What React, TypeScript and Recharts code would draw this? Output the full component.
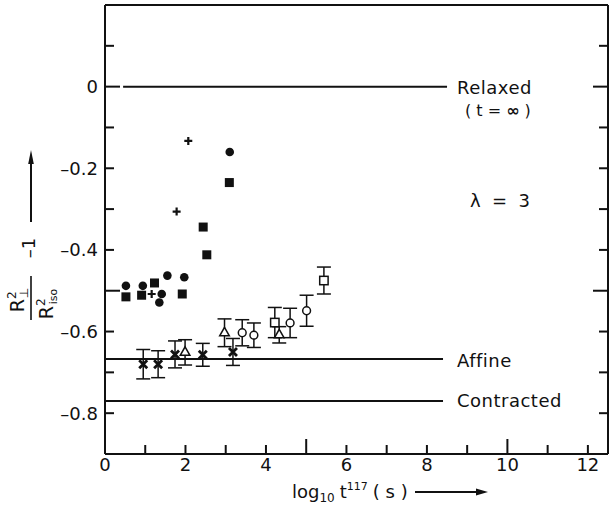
import React from "react";
import {
  ScatterChart,
  Scatter,
  XAxis,
  YAxis,
  ErrorBar,
  ReferenceLine,
} from "recharts";

// values (x = log10 t, y = R_perp^2 / R_iso^2 - 1)
const discX = [0.52, 0.94, 1.35, 1.41, 1.55, 1.97, 3.1];
const discY = [-0.488, -0.488, -0.529, -0.508, -0.463, -0.467, -0.16];

const blockX = [0.52, 0.91, 1.23, 1.92, 2.44, 2.53, 3.09];
const blockY = [-0.515, -0.511, -0.481, -0.508, -0.344, -0.412, -0.235];

const plusX = [1.16, 1.78, 2.07];
const plusY = [-0.508, -0.306, -0.133];

const crossX = [0.95, 1.32, 1.74, 2.43, 3.18];
const crossY = [-0.68, -0.68, -0.656, -0.657, -0.65];
const crossErr = [0.036, 0.033, 0.033, 0.028, 0.033];

const triX = [1.99, 2.97, 4.33];
const triY = [-0.651, -0.603, -0.608];
const triErr = [0.031, 0.034, 0.02];

const ringX = [3.41, 3.7, 4.6, 5.01];
const ringY = [-0.603, -0.609, -0.579, -0.549];
const ringErr = [0.032, 0.03, 0.036, 0.038];

const boxX = [4.22, 5.44];
const boxY = [-0.578, -0.475];
const boxErr = [0.037, 0.033];

// horizontal limits
const limitNames = ["Relaxed", "Affine", "Contracted"];
const limitValues = [0, -0.667, -0.77];
const limitFrom = [0.45, 0, 0];
const limitTo = [8.5, 8.4, 8.4];

const xTicks = [0, 1, 2, 3, 4, 5, 6, 7, 8, 9, 10, 11, 12];
const xTickLabels = [0, 2, 4, 6, 8, 10, 12];
const yTicks = [0.1, 0, -0.1, -0.2, -0.3, -0.4, -0.5, -0.6, -0.7, -0.8];
const yTickLabels = [0, -0.2, -0.4, -0.6, -0.8];

const FONT = "'DejaVu Sans', sans-serif";
const INK = "#111";
const TW = 2; // tick stroke

const pts = (xs: number[], ys: number[], errs?: number[]) =>
  xs.map((x, i) => ({ x, y: ys[i], err: errs ? errs[i] : 0 }));

const near = (a: number, b: number) => Math.abs(a - b) < 1e-6;
const isMajorX = (v: number) => near(v % 5, 0);
const isMajorY = (v: number) => near(v * 2, Math.round(v * 2));
const fmtY = (v: number) => (near(v, 0) ? "0" : "\u2013" + Math.abs(v).toFixed(1));
const tickLen = (major: boolean) => (major ? 15 : 9);

// tickSize and tickMargin are 0, so p.x / p.y sit on the axis line
const BottomTick = (p: any) => {
  const v = p.payload.value;
  return (
    <g>
      <line x1={p.x} x2={p.x} y1={p.y} y2={p.y - tickLen(isMajorX(v))} stroke={INK} strokeWidth={TW} />
      {xTickLabels.some((t) => near(t, v)) && (
        <text x={p.x} y={p.y + 17} textAnchor="middle" fontSize={18} fontFamily={FONT} fill={INK}>
          {v}
        </text>
      )}
    </g>
  );
};

const TopTick = (p: any) => (
  <line x1={p.x} x2={p.x} y1={p.y} y2={p.y + tickLen(isMajorX(p.payload.value))} stroke={INK} strokeWidth={TW} />
);

const LeftTick = (p: any) => {
  const v = p.payload.value;
  return (
    <g>
      <line x1={p.x} x2={p.x + tickLen(isMajorY(v))} y1={p.y} y2={p.y} stroke={INK} strokeWidth={TW} />
      {yTickLabels.some((t) => near(t, v)) && (
        <text x={p.x - 7} y={p.y + 6.5} textAnchor="end" fontSize={18} fontFamily={FONT} fill={INK}>
          {fmtY(v)}
        </text>
      )}
    </g>
  );
};

const RightTick = (p: any) => (
  <line x1={p.x} x2={p.x - tickLen(isMajorY(p.payload.value))} y1={p.y} y2={p.y} stroke={INK} strokeWidth={TW} />
);

const Disc = ({ cx, cy }: any) => <circle cx={cx} cy={cy} r={4.3} fill={INK} />;
const Block = ({ cx, cy }: any) => <rect x={cx - 4.5} y={cy - 4.5} width={9} height={9} fill={INK} />;
const Plus = ({ cx, cy }: any) => (
  <path d={`M${cx - 4},${cy}H${cx + 4}M${cx},${cy - 4}V${cy + 4}`} stroke={INK} strokeWidth={2.2} />
);
const Cross = ({ cx, cy }: any) => (
  <path
    d={`M${cx - 4},${cy - 4}L${cx + 4},${cy + 4}M${cx + 4},${cy - 4}L${cx - 4},${cy + 4}`}
    stroke={INK}
    strokeWidth={2.8}
  />
);
const Ring = ({ cx, cy }: any) => <circle cx={cx} cy={cy} r={3.9} fill="#fff" stroke={INK} strokeWidth={1.5} />;
const Tri = ({ cx, cy }: any) => (
  <polygon
    points={`${cx},${cy - 5.5} ${cx + 4.8},${cy + 3} ${cx - 4.8},${cy + 3}`}
    fill="#fff"
    stroke={INK}
    strokeWidth={1.5}
  />
);
const Box = ({ cx, cy }: any) => (
  <rect x={cx - 4.2} y={cy - 4.2} width={8.4} height={8.4} fill="#fff" stroke={INK} strokeWidth={1.5} />
);

const errBar = <ErrorBar dataKey="err" direction="y" width={7} stroke={INK} strokeWidth={1.5} />;

const limitLabelY = [94, 367, 407];

const axisCommon = {
  type: "number" as const,
  interval: 0 as const,
  tickSize: 0,
  tickMargin: 0,
  tickLine: false,
  axisLine: { stroke: INK, strokeWidth: 2 },
  allowDataOverflow: true,
};

export default function App() {
  return (
    <div style={{ position: "absolute", left: 0, top: 0, width: 609, height: 515, background: "#fff" }}>
      <ScatterChart width={609} height={515} margin={{ top: 0, right: 0, bottom: 0, left: 0 }}>
        <XAxis
          {...axisCommon}
          dataKey="x"
          domain={[0, 12.5]}
          ticks={xTicks}
          height={61}
          tick={(p: any) => <BottomTick {...p} />}
        />
        <XAxis
          {...axisCommon}
          xAxisId="top"
          orientation="top"
          domain={[0, 12.5]}
          ticks={xTicks}
          height={5}
          tick={(p: any) => <TopTick {...p} />}
        />
        <YAxis
          {...axisCommon}
          dataKey="y"
          domain={[-0.9, 0.2]}
          ticks={yTicks}
          width={105}
          tick={(p: any) => <LeftTick {...p} />}
        />
        <YAxis
          {...axisCommon}
          yAxisId="right"
          orientation="right"
          domain={[-0.9, 0.2]}
          ticks={yTicks}
          width={1}
          tick={(p: any) => <RightTick {...p} />}
        />
        {limitNames.map((n, i) => (
          <ReferenceLine
            key={n}
            segment={[
              { x: limitFrom[i], y: limitValues[i] },
              { x: limitTo[i], y: limitValues[i] },
            ]}
            stroke={INK}
            strokeWidth={2}
          />
        ))}
        <Scatter data={pts(discX, discY)} shape={Disc} isAnimationActive={false} />
        <Scatter data={pts(blockX, blockY)} shape={Block} isAnimationActive={false} />
        <Scatter data={pts(plusX, plusY)} shape={Plus} isAnimationActive={false} />
        <Scatter data={pts(crossX, crossY, crossErr)} shape={Cross} isAnimationActive={false}>
          {errBar}
        </Scatter>
        <Scatter data={pts(triX, triY, triErr)} shape={Tri} isAnimationActive={false}>
          {errBar}
        </Scatter>
        <Scatter data={pts(ringX, ringY, ringErr)} shape={Ring} isAnimationActive={false}>
          {errBar}
        </Scatter>
        <Scatter data={pts(boxX, boxY, boxErr)} shape={Box} isAnimationActive={false}>
          {errBar}
        </Scatter>
      </ScatterChart>

      <svg
        width={609}
        height={515}
        style={{ position: "absolute", left: 0, top: 0, pointerEvents: "none" }}
        fontFamily={FONT}
        fill={INK}
      >
        {limitNames.map((n, i) => (
          <text key={n} x={457} y={limitLabelY[i]} fontSize={18} letterSpacing={0.5}>
            {n}
          </text>
        ))}
        <text x={465} y={116} fontSize={16} xmlSpace="preserve">
          ( t = <tspan fontWeight="bold">∞</tspan> )
        </text>
        <text x={470} y={207} fontSize={18} xmlSpace="preserve">
          λ  =  3
        </text>

        {/* x axis title */}
        <text x={292} y={498} fontSize={18}>
          log
          <tspan fontSize={12} dy={4}>10</tspan>
          <tspan dx={5} dy={-4}>t</tspan>
          <tspan fontSize={11} dy={-8}>117</tspan>
          <tspan dx={5} dy={8} xmlSpace="preserve">( s )</tspan>
        </text>
        <line x1={415} x2={478} y1={492} y2={492} stroke={INK} strokeWidth={2} />
        <polygon points="488,492 476,488.5 476,495.5" fill={INK} />

        {/* y axis title */}
        <g transform="translate(31,298) rotate(-90)">
          <text x={-2} y={-7} textAnchor="middle" fontSize={19}>
            R
            <tspan fontSize={12} dy={-8}>2</tspan>
            <tspan fontSize={12} dx={-7} dy={12}>⊥</tspan>
          </text>
          <line x1={-22} x2={22} y1={0} y2={0} stroke={INK} strokeWidth={1.6} />
          <text x={-6} y={22} textAnchor="middle" fontSize={19}>
            R
            <tspan fontSize={12} dy={-8}>2</tspan>
            <tspan fontSize={11} dx={-6} dy={12}>iso</tspan>
          </text>
          <text x={50} y={4} textAnchor="middle" fontSize={18}>
            {"\u2013"}1
          </text>
          <line x1={76} x2={136} y1={0} y2={0} stroke={INK} strokeWidth={2} />
          <polygon points="148,0 134,-2.8 134,2.8" fill={INK} />
        </g>
      </svg>
    </div>
  );
}
